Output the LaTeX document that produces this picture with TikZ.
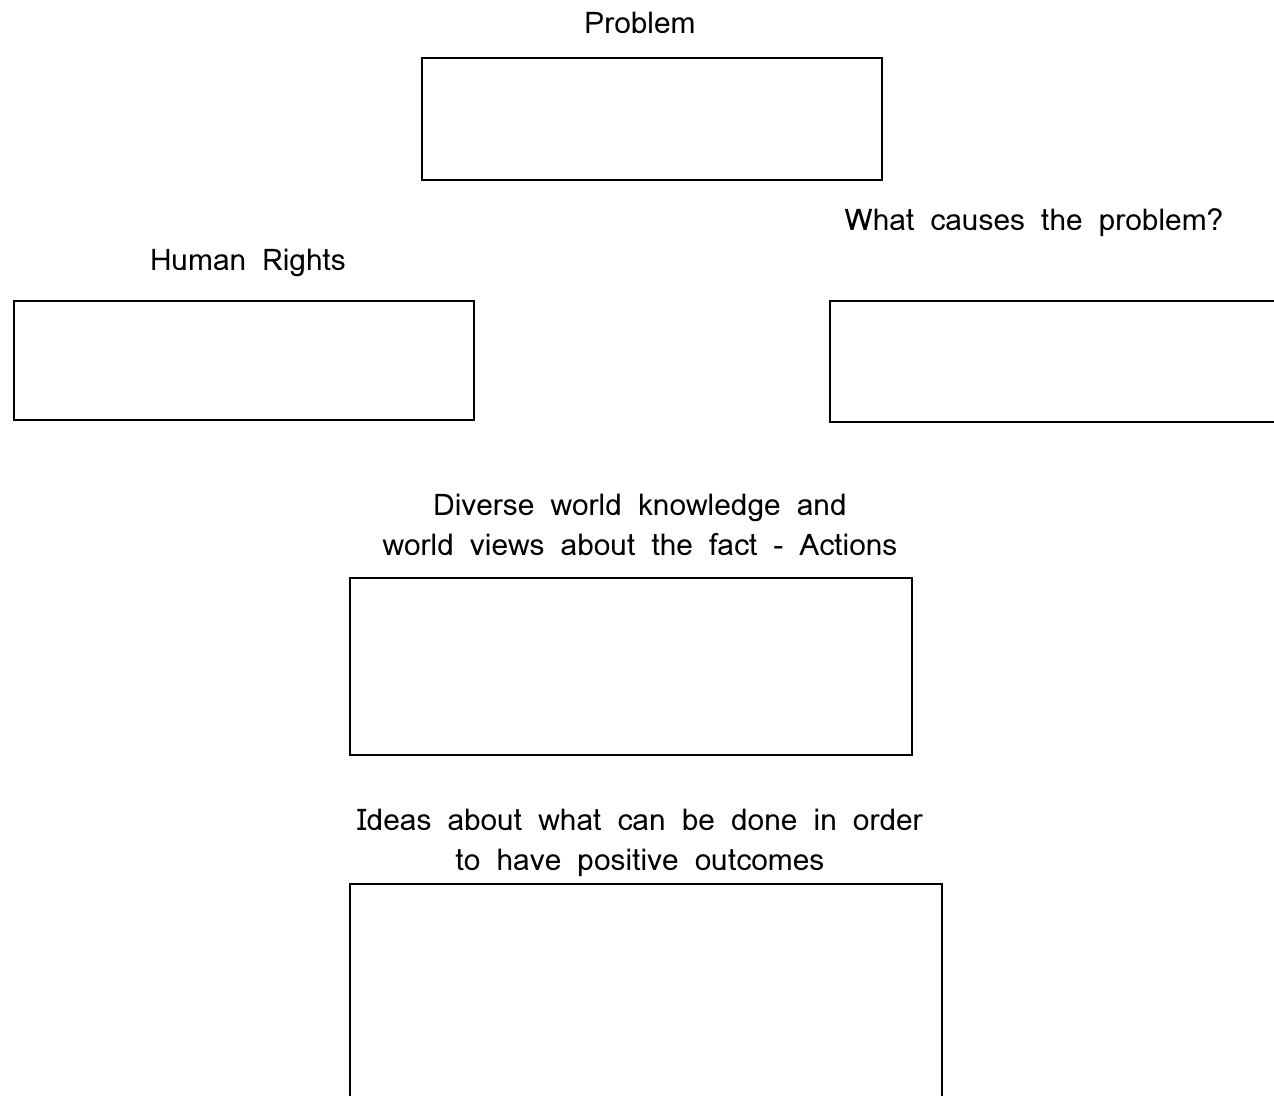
\documentclass[tikz,border=0pt]{standalone}
\usepackage{fontspec}
\setmainfont[WordSpace=1.6]{Loma}
\usetikzlibrary{positioning}

\tikzset{
  sheetbox/.style={draw, line width=1.1pt, rectangle, anchor=north west, inner sep=0pt},
  heading/.style={font=\fontsize{17}{22.7}\selectfont, align=center, inner sep=0pt}
}

\begin{document}
\begin{tikzpicture}[x=0.02cm, y=-0.02cm]
			% page frame
			\useasboundingbox (0,0) rectangle (1274,1095);
			\clip (0,0) rectangle (1274,1095);

			% Problem
			\node[heading] (problem) at (640, 23) {Problem};
			\node[sheetbox, minimum width=9.2cm, minimum height=2.44cm] (problembox) at (421, 57) {};

			% Human Rights
			\node[heading] (rights) at (248, 263) {Human Rights};
			\node[sheetbox, minimum width=9.2cm, minimum height=2.38cm] (rightsbox) at (13, 300) {};

			% What causes the problem?
			\node[heading] (causes) at (1034, 223) {What causes the problem?};
			\node[sheetbox, minimum width=9.4cm, minimum height=2.42cm] (causesbox) at (829, 300) {};

			% Diverse world knowledge
			\node[heading] (diverse) at (640, 525) {Diverse world knowledge and\\world views about the fact - Actions};
			\node[sheetbox, minimum width=11.24cm, minimum height=3.54cm] (diversebox) at (349, 577) {};

			% Ideas about what can be done
			\node[heading] (ideas) at (640, 843) {Ideas about what can be done in order\\to have positive outcomes};
			\node[sheetbox, minimum width=11.84cm, minimum height=5cm] (ideasbox) at (349, 883) {};

		\end{tikzpicture}
\end{document}
